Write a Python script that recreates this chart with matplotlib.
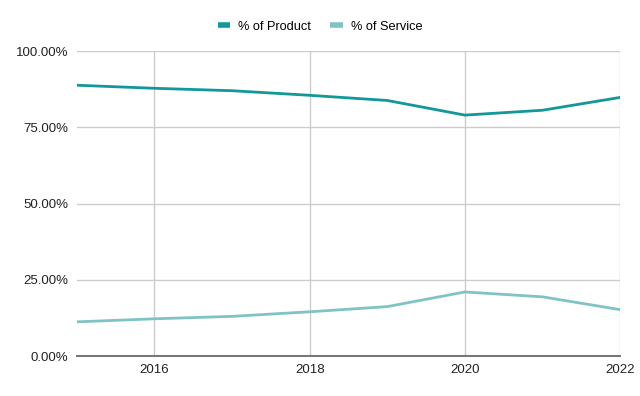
import matplotlib
matplotlib.use("Agg")
import matplotlib.pyplot as plt
from matplotlib.ticker import FuncFormatter

plt.rcParams['font.family'] = ['Liberation Sans', 'DejaVu Sans']

years = [2015, 2016, 2017, 2018, 2019, 2020, 2021, 2022]
product = [88.8, 87.8, 87.0, 85.5, 83.8, 79.0, 80.6, 84.8]
service = [11.2, 12.2, 13.0, 14.5, 16.2, 21.0, 19.4, 15.2]
series_names = ["% of Product", "% of Service"]
yticks = [0, 25, 50, 75, 100]
xticks = [2016, 2018, 2020, 2022]

fig = plt.figure(figsize=(6.4, 3.96), dpi=100)
ax = fig.add_axes([0.120, 0.101, 0.849, 0.770])

c_prod = "#12979b"
c_serv = "#80c3c4"
ax.plot(years, product, color=c_prod, lw=2, label=series_names[0], solid_capstyle='butt', zorder=3)
ax.plot(years, service, color=c_serv, lw=2, label=series_names[1], solid_capstyle='butt', zorder=3)

ax.set_xlim(2015, 2022)
ax.set_ylim(0, 100)
ax.set_yticks(yticks)
ax.set_xticks(xticks)
ax.yaxis.set_major_formatter(FuncFormatter(lambda v, p: f"{v:.2f}%"))
ax.grid(True, color="#cccccc", lw=1)
ax.set_axisbelow(True)
for s in ["top", "right", "left"]:
    ax.spines[s].set_visible(False)
ax.spines["bottom"].set_color("#777777")
ax.spines["bottom"].set_linewidth(1.5)
ax.spines["bottom"].set_zorder(4)
ax.tick_params(length=0, labelsize=9.5, colors="#222222", pad=6)

leg = fig.legend(loc="center", bbox_to_anchor=(0.5, 0.933), ncol=2, frameon=False,
                 fontsize=9.2, handlelength=1.0, handletextpad=0.6, columnspacing=1.5)
for h in leg.get_lines():
    h.set_linewidth(4)

fig.savefig("out.png", dpi=100)
